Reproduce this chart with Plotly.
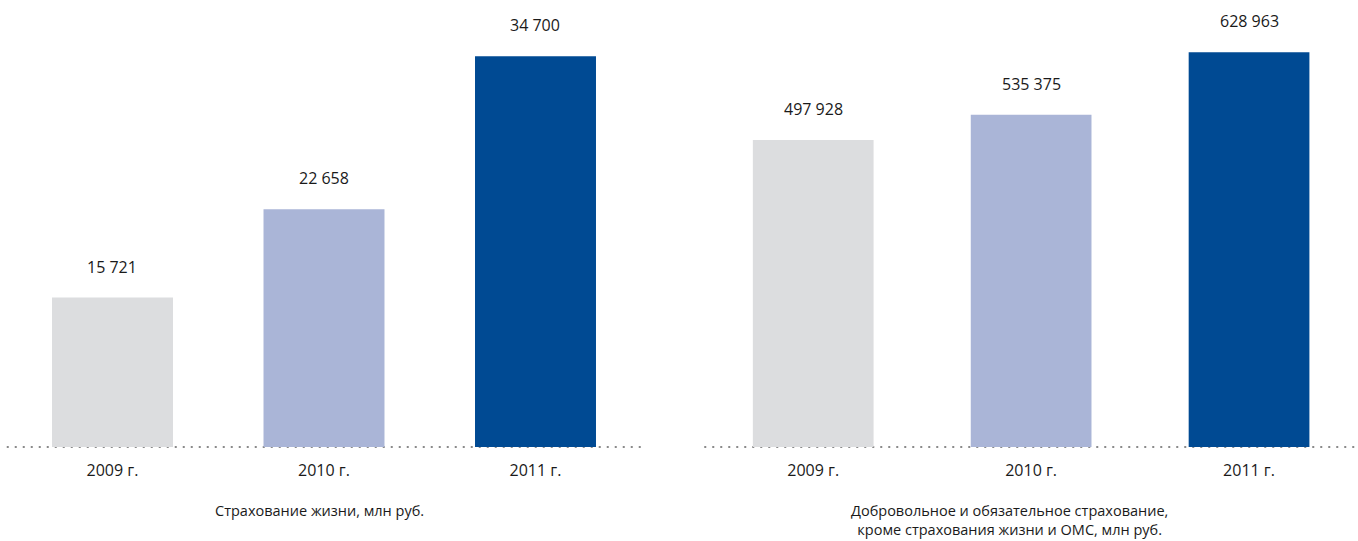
import plotly.graph_objects as go

years = ["2009 г.", "2010 г.", "2011 г."]
life_values = [15721, 22658, 34700]
nonlife_values = [497928, 535375, 628963]
bar_colors = ["#DCDDDF", "#AAB5D7", "#004A93"]
title_left = "Страхование жизни, млн руб."
title_right = "Добровольное и обязательное страхование,<br>кроме страхования жизни и ОМС, млн руб."

def fmt(v):
    return f"{v:,}".replace(",", " ")

FONT = "Open Sans"
TXT = "#1a1a1a"

fig = go.Figure()
fig.add_trace(go.Bar(x=years, y=life_values, marker=dict(color=bar_colors, line=dict(width=0)),
                     width=0.572, xaxis="x", yaxis="y", hoverinfo="skip"))
fig.add_trace(go.Bar(x=years, y=nonlife_values, marker=dict(color=bar_colors, line=dict(width=0)),
                     width=0.554, xaxis="x2", yaxis="y2", hoverinfo="skip"))

annotations = []
for xa, ya, vals in (("x", "y", life_values), ("x2", "y2", nonlife_values)):
    for cat, v in zip(years, vals):
        annotations.append(dict(x=cat, y=v, xref=xa, yref=ya, text=fmt(v), showarrow=False,
                                xanchor="center", yanchor="middle", yshift=31,
                                font=dict(family=FONT, size=16, color=TXT)))

annotations.append(dict(x=0.2356, y=-0.141, xref="paper", yref="paper",
                        text=title_left, showarrow=False, xanchor="center", yanchor="middle",
                        font=dict(family=FONT, size=14.5, color=TXT)))
annotations.append(dict(x=0.7437, y=-0.141, xref="paper", yref="paper",
                        text=title_right, showarrow=False, xanchor="center", align="center",
                        yanchor="top", yshift=11,
                        font=dict(family=FONT, size=14.5, color=TXT)))

shapes = []
for xa, ya in (("x", "y"), ("x2", "y2")):
    shapes.append(dict(type="line", xref=f"{xa} domain", yref=f"{ya} domain",
                       x0=0, x1=1, y0=0, y1=0, layer="below",
                       line=dict(color="#8a8a8a", width=2, dash="2px,6px")))

axis_common = dict(showgrid=False, zeroline=False, showline=False, ticks="",
                   tickfont=dict(family=FONT, size=16, color=TXT), ticklabelstandoff=12,
                   fixedrange=True)

fig.update_layout(
    width=1358, height=541,
    margin=dict(l=0, r=0, t=0, b=94),
    paper_bgcolor="white", plot_bgcolor="white",
    showlegend=False,
    xaxis=dict(domain=[0.00497, 0.4722], anchor="y", range=[-0.5, 2.5], **axis_common),
    xaxis2=dict(domain=[0.5186, 1.0], anchor="y2", range=[-0.5, 2.5], **axis_common),
    yaxis=dict(domain=[0, 1], anchor="x", range=[3969, 39116], visible=False),
    yaxis2=dict(domain=[0, 1], anchor="x2", range=[39518, 706860], visible=False),
    annotations=annotations,
    shapes=shapes,
)

fig.write_html("out.html", config={"displayModeBar": False},
               post_script="document.body.style.margin='0';document.body.style.overflow='hidden';")
